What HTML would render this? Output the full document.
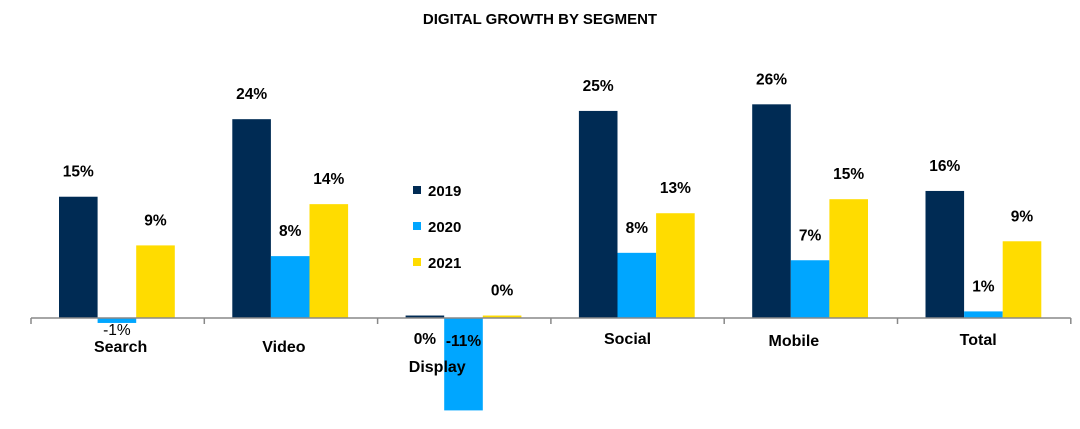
<!DOCTYPE html>
<html><head><meta charset="utf-8"><style>
html,body{margin:0;padding:0;background:#fff;width:1080px;height:429px;overflow:hidden}
svg text{font-family:"Liberation Sans",Arial,sans-serif;fill:#000}
</style></head><body>
<svg id="chart" width="1080" height="429" viewBox="0 0 1080 429" xmlns="http://www.w3.org/2000/svg">
<text x="540" y="24" text-anchor="middle" font-size="15" font-weight="bold">DIGITAL GROWTH BY SEGMENT</text>
</svg>
<script>
const categories = ["Search","Video","Display","Social","Mobile","Total"];
const seriesNames = ["2019","2020","2021"];
const values2019 = [14.7, 24.1, 0.3, 25.1, 25.9, 15.4];
const values2020 = [-0.6, 7.5, -11.2, 7.9, 7.0, 0.8];
const values2021 = [8.8, 13.8, 0.3, 12.7, 14.4, 9.3];
const printed2019 = ["15%","24%","0%","25%","26%","16%"];
const printed2020 = ["-1%","8%","-11%","8%","7%","1%"];
const printed2021 = ["9%","14%","0%","13%","15%","9%"];

const svg = document.getElementById('chart');
const NS = 'http://www.w3.org/2000/svg';
const colors = ["#002b54","#00a6ff","#ffdc00"];
const x0 = 31, catW = 173.3, baseY = 318, pxPer = 8.25, barW = 38.6, groupOff = 28;
const catLabelY = [352, 352, 372, 344, 346, 345];
const catLabelDx = [0, -10, -30, -13, -20, -9];
function xScale(ci, si){ return x0 + ci*catW + groupOff + si*barW; }
function yScale(v){ return baseY - v*pxPer; }
function mk(tag, attrs){ const e=document.createElementNS(NS,tag); for(const k in attrs) e.setAttribute(k, attrs[k]); svg.appendChild(e); return e; }

const allVals=[values2019,values2020,values2021];
const allPrinted=[printed2019,printed2020,printed2021];
for(let s=0;s<3;s++){
  for(let c=0;c<categories.length;c++){
    const v=allVals[s][c];
    const x=xScale(c,s);
    const y=Math.min(yScale(v),baseY);
    const h=Math.max(Math.abs(yScale(v)-baseY),1.5);
    const r=mk('rect',{x:x,y:y,width:barW,height:h,fill:colors[s]});
    
    
    let ly, weight='bold';
    if(v<0){ ly = v<-3 ? baseY+28 : baseY+17; if(v>=-3) weight='normal'; }
    else if(s===0 && v<1){ ly = baseY+26; }
    else { ly = yScale(v)-20; }
    const t=mk('text',{x:x+barW/2,y:ly,'text-anchor':'middle','font-size':'15.5','font-weight':weight});
    t.textContent=allPrinted[s][c];
    
    
  }
}
const axis=mk('line',{x1:x0,y1:baseY,x2:x0+catW*6,y2:baseY,stroke:'#888','stroke-width':'1.5'});


for(let c=0;c<=categories.length;c++){
  const tk=mk('line',{x1:x0+c*catW,y1:baseY,x2:x0+c*catW,y2:baseY+6,stroke:'#888','stroke-width':'1.5'});
  
  
}
for(let c=0;c<categories.length;c++){
  const t=mk('text',{x:x0+c*catW+catW/2+3+catLabelDx[c],y:catLabelY[c],'text-anchor':'middle','font-size':'16','font-weight':'bold'});
  t.textContent=categories[c];
  
  
}
for(let s=0;s<3;s++){
  const sq=mk('rect',{x:413,y:186+s*36,width:8,height:8,fill:colors[s]});
  
  
  const t=mk('text',{x:428,y:196+s*36,'font-size':'15','font-weight':'bold'});
  t.textContent=seriesNames[s];
  
  
}
</script>
</body></html>
